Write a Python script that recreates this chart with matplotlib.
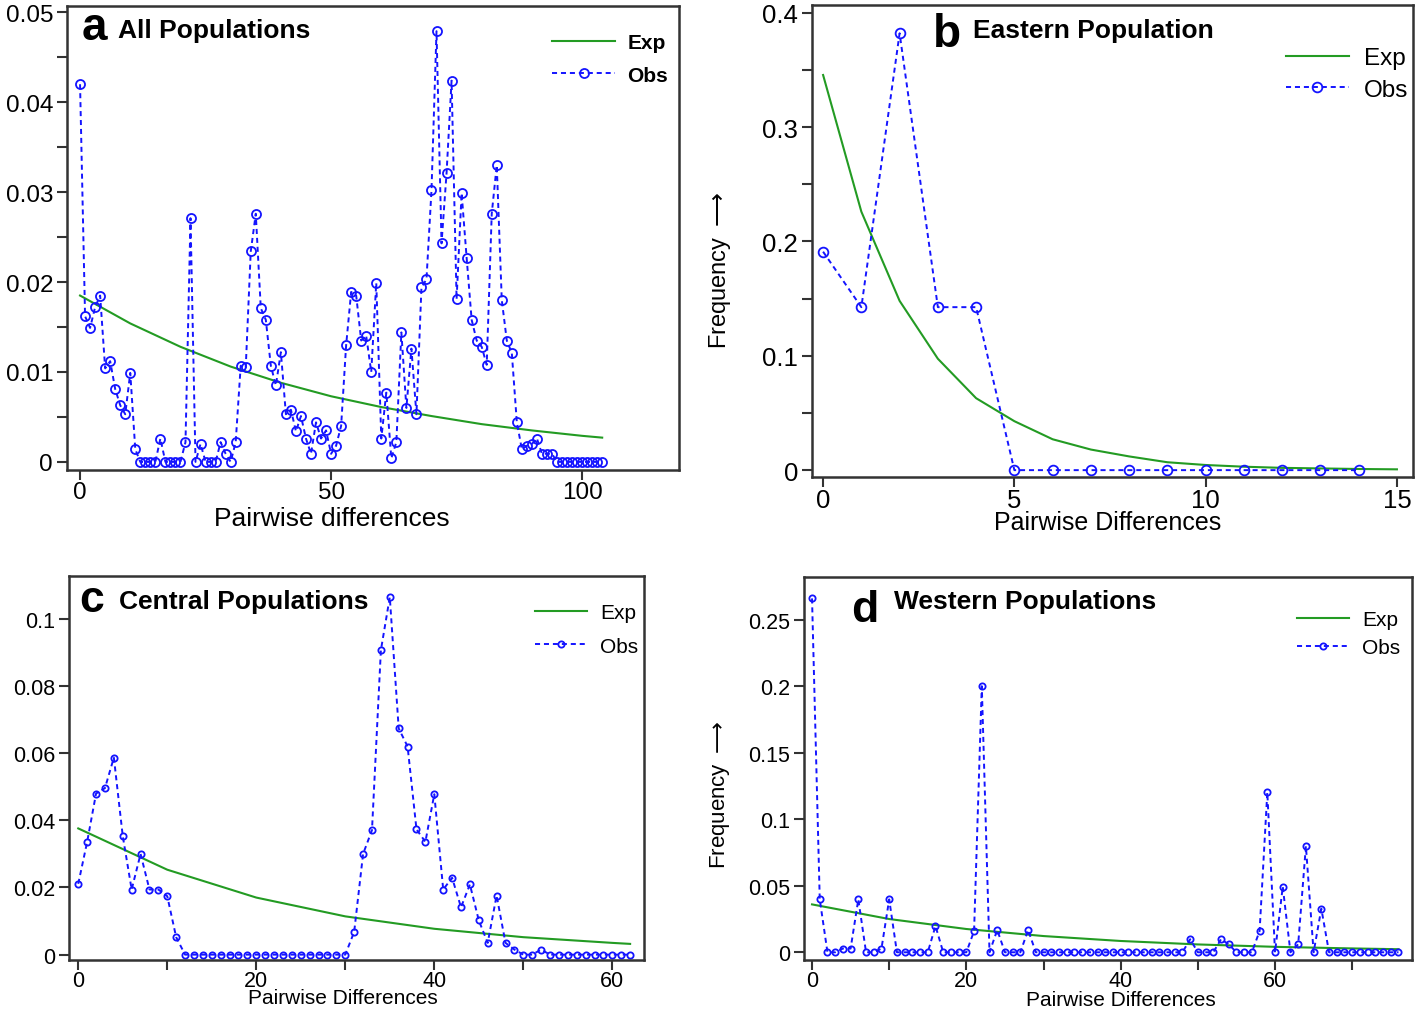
import numpy as np
import matplotlib.pyplot as plt
from matplotlib.ticker import MultipleLocator, FuncFormatter

plt.rcParams['font.family'] = ['Liberation Sans', 'DejaVu Sans']

# ---- data ----
# a: all populations
a_obs = [0.042, 0.0162, 0.0149, 0.0172, 0.0185, 0.0104, 0.0112, 0.0081, 0.0063, 0.0053,
         0.0099, 0.0014, 0, 0, 0, 0, 0.0026, 0, 0, 0,
         0, 0.0022, 0.0271, 0, 0.0020, 0, 0, 0, 0.0022, 0.0009,
         0, 0.0022, 0.0107, 0.0105, 0.0234, 0.0276, 0.0171, 0.0158, 0.0107, 0.0085,
         0.0122, 0.0053, 0.0058, 0.0034, 0.0051, 0.0026, 0.0009, 0.0044, 0.0026, 0.0035,
         0.0009, 0.0018, 0.0040, 0.0130, 0.0189, 0.0185, 0.0135, 0.0140, 0.0100, 0.0199,
         0.0026, 0.0077, 0.0004, 0.0022, 0.0144, 0.0060, 0.0126, 0.0053, 0.0194, 0.0203,
         0.0302, 0.0479, 0.0243, 0.0321, 0.0424, 0.0181, 0.0299, 0.0227, 0.0158, 0.0135,
         0.0128, 0.0108, 0.0276, 0.0330, 0.0180, 0.0135, 0.0121, 0.0044, 0.0014, 0.0018,
         0.0020, 0.0026, 0.0009, 0.0009, 0.0009, 0, 0, 0, 0, 0,
         0, 0, 0, 0, 0]
a_exp_x = [0, 10, 20, 30, 40, 50, 60, 70, 80, 90, 100, 104]
a_exp = [0.0185, 0.0154, 0.0128, 0.0106, 0.0088, 0.0073, 0.0061, 0.0051, 0.0042, 0.0035, 0.0029, 0.0027]

# b: eastern population
b_obs = [0.191, 0.1425, 0.382, 0.1425, 0.1425, 0, 0, 0, 0, 0, 0, 0, 0, 0, 0]
b_exp = [0.3455, 0.226, 0.148, 0.0974, 0.0629, 0.0428, 0.027, 0.018, 0.012, 0.0069,
         0.0045, 0.003, 0.002, 0.0015, 0.001, 0.0007]

# c: central populations
c_obs = [0.0211, 0.0336, 0.048, 0.0496, 0.0587, 0.0353, 0.0194, 0.030, 0.0194, 0.0194,
         0.0174, 0.0052, 0, 0, 0, 0, 0, 0, 0, 0,
         0, 0, 0, 0, 0, 0, 0, 0, 0, 0,
         0, 0.0068, 0.030, 0.0371, 0.0907, 0.1065, 0.0674, 0.062, 0.0373, 0.0336,
         0.0478, 0.0194, 0.0229, 0.0141, 0.0209, 0.0102, 0.0035, 0.0176, 0.0035, 0.0015,
         0, 0, 0.0015, 0, 0, 0, 0, 0, 0, 0,
         0, 0, 0]
c_exp_x = [0, 10, 20, 30, 40, 50, 60, 62]
c_exp = [0.0376, 0.0253, 0.0170, 0.0114, 0.0077, 0.0052, 0.0035, 0.0032]

# d: western populations
d_obs = [0.266, 0.0398, 0, 0, 0.0028, 0.0028, 0.0398, 0, 0, 0.0028,
         0.0398, 0, 0, 0, 0, 0, 0.0198, 0, 0, 0,
         0, 0.016, 0.200, 0, 0.0168, 0, 0, 0, 0.0168, 0,
         0, 0, 0, 0, 0, 0, 0, 0, 0, 0,
         0, 0, 0, 0, 0, 0, 0, 0, 0, 0.0098,
         0, 0, 0, 0.0098, 0.006, 0, 0, 0, 0.016, 0.1203,
         0, 0.0493, 0, 0.006, 0.0798, 0, 0.0328, 0, 0, 0,
         0, 0, 0, 0, 0, 0, 0]
d_exp_x = [0, 10, 20, 30, 40, 50, 60, 70, 76]
d_exp = [0.036, 0.025, 0.0175, 0.0122, 0.0085, 0.0059, 0.0041, 0.0029, 0.0023]

W, H = 1418, 1012
GREEN = '#239b23'
BLUE = '#1414ff'
FREQ = r'Frequency $\longrightarrow$'
fig = plt.figure(figsize=(W / 100, H / 100), dpi=100)


def px_axes(left, top, right, bottom):
    return fig.add_axes([left / W, 1 - bottom / H, (right - left) / W, (bottom - top) / H])


def panel(ax, obs, exp_x, exp, ms, tick_fs, xpad=2):
    ax.plot(exp_x, exp, color=GREEN, lw=1.5, label='Exp')
    ax.plot(np.arange(len(obs)), obs, color=BLUE, lw=1.4, ls=(0, (2.6, 2.0)),
            marker='o', ms=ms, mfc='none', mec=BLUE, mew=1.3, label='Obs')
    for s in ax.spines.values():
        s.set_linewidth(1.8)
        s.set_color('#333333')
    ax.tick_params(which='both', direction='out', width=1.5, color='#333333',
                   labelsize=tick_fs, length=7)
    ax.tick_params(axis='y', pad=3)
    ax.tick_params(axis='x', pad=xpad)
    ax.yaxis.set_major_formatter(FuncFormatter(lambda v, p: '%g' % round(v, 4)))


def legend(ax, right, top, fs, hl, weight='normal', spacing=0.45):
    ax.legend(loc='upper right', bbox_to_anchor=(right / W, 1 - top / H),
              bbox_transform=fig.transFigure, frameon=False, borderpad=0,
              borderaxespad=0, handlelength=hl, handletextpad=0.6,
              labelspacing=spacing, numpoints=1,
              prop={'size': fs, 'weight': weight})


def title(letter, lx, ly, lfs, text, tx, ty, tfs):
    fig.text(lx / W, 1 - ly / H, letter, fontsize=lfs, fontweight='bold', va='baseline')
    fig.text(tx / W, 1 - ty / H, text, fontsize=tfs, fontweight='bold', va='baseline')


# ---- a ----
ax = px_axes(67, 7, 679, 471)
panel(ax, a_obs, a_exp_x, a_exp, 6.5, 17.5, xpad=1)
ax.set_xlim(-2.6, 119.3)
ax.set_ylim(-0.0009, 0.0507)
ax.set_xticks([0, 50, 100])
ax.yaxis.set_major_locator(MultipleLocator(0.01))
ax.yaxis.set_minor_locator(MultipleLocator(0.005))
legend(ax, 668, 34, 15, 3.0, weight='bold', spacing=0.65)
title('a', 82, 40, 33, 'All Populations', 118, 38, 19)
fig.text(332 / W, 1 - 519 / H, 'Pairwise differences', fontsize=19, ha='center', va='center')

# ---- b ----
ax = px_axes(812, 6, 1413, 478)
panel(ax, b_obs, np.arange(len(b_exp)), b_exp, 7, 18.5, xpad=1)
ax.set_xlim(-0.29, 15.42)
ax.set_ylim(-0.006, 0.4067)
ax.set_xticks([0, 5, 10, 15])
ax.yaxis.set_major_locator(MultipleLocator(0.1))
ax.yaxis.set_minor_locator(MultipleLocator(0.05))
legend(ax, 1408, 48, 17.5, 2.6, spacing=0.4)
title('b', 933, 47, 33, 'Eastern Population', 973, 38, 19)
fig.text(1108 / W, 1 - 523 / H, 'Pairwise Differences', fontsize=18, ha='center', va='center')
fig.text(720 / W, 1 - 270 / H, FREQ, fontsize=17, rotation=90, ha='center', va='center')

# ---- c ----
ax = px_axes(69, 577, 644, 961)
panel(ax, c_obs, c_exp_x, c_exp, 4.5, 15.5, xpad=0)
ax.set_xlim(-1.04, 63.56)
ax.set_ylim(-0.0016, 0.1128)
ax.xaxis.set_major_locator(MultipleLocator(20))
ax.xaxis.set_minor_locator(MultipleLocator(10))
ax.yaxis.set_major_locator(MultipleLocator(0.02))
legend(ax, 638, 604, 15, 2.5, spacing=0.7)
title('c', 79, 612, 32, 'Central Populations', 119, 609, 19)
fig.text(343 / W, 1 - 999 / H, 'Pairwise Differences', fontsize=15, ha='center', va='center')

# ---- d ----
ax = px_axes(804, 578, 1412, 961)
panel(ax, d_obs, d_exp_x, d_exp, 4.5, 15.5, xpad=0)
ax.set_xlim(-1.04, 77.75)
ax.set_ylim(-0.0058, 0.2821)
ax.xaxis.set_major_locator(MultipleLocator(20))
ax.xaxis.set_minor_locator(MultipleLocator(10))
ax.yaxis.set_major_locator(MultipleLocator(0.05))
legend(ax, 1400, 611, 15, 2.5, spacing=0.45)
title('d', 851, 622, 32, 'Western Populations', 894, 609, 19)
fig.text(1121 / W, 1 - 1001 / H, 'Pairwise Differences', fontsize=15, ha='center', va='center')
fig.text(720 / W, 1 - 795 / H, FREQ, fontsize=16, rotation=90, ha='center', va='center')

fig.savefig('out.png', dpi=100)
